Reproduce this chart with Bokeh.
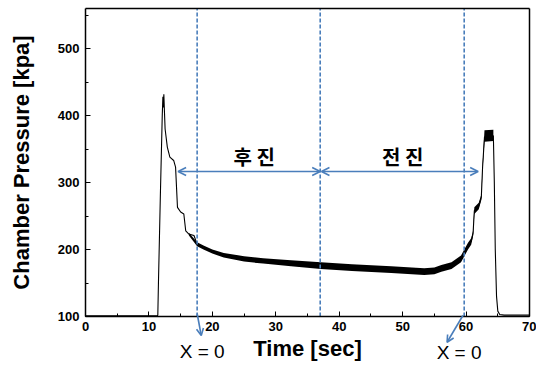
from bokeh.plotting import figure
from bokeh.models import (Arrow, OpenHead, Label, SingleIntervalTicker,
                          FixedTicker, LinearAxis, Range1d)
from bokeh.embed import file_html
from bokeh.resources import INLINE

# ---- data ----
time_s = [0, 11.3, 11.4, 11.5, 11.8, 12.1, 12.2, 12.27, 12.35, 12.45, 12.55,
          12.9, 13.3, 13.9, 14.2, 14.5, 15.0, 15.5, 15.8, 16.3, 17.1, 17.6,
          18.6, 20.0, 21.8, 25.0, 28.0, 32.4, 37.1, 42.0, 48.2, 53.4, 55.0,
          56.1, 57.7, 59.2, 60.3, 60.8, 61.1, 61.3, 62.0, 62.4, 62.6, 62.9,
          64.3, 64.45, 64.6, 64.8, 65.0, 65.3, 66.0, 70.0]
pressure = [101, 101, 102, 150, 280, 400, 428, 412, 432, 405, 380,
            353, 338, 333, 323, 263, 256, 253, 228, 223, 221, 208,
            203, 197, 191, 186, 183, 179, 176, 173, 170, 167, 168,
            172, 176, 186, 205, 212, 224, 258, 265, 278, 323, 368,
            370, 300, 200, 130, 108, 103, 102, 102]

# noisy band (upper / lower envelope) of the steady part
band_t = [16.3, 17.6, 18.6, 20.0, 21.8, 25.0, 28.0, 32.4, 37.1, 42.0, 48.2,
          53.4, 55.0, 56.1, 57.7, 59.2, 60.3, 60.8, 61.1, 61.3, 62.0, 62.4,
          62.6, 62.9, 64.3]
band_hi = [225, 211, 206, 200, 195, 190, 187, 184, 181, 178, 175,
           172, 173, 177, 181, 191, 210, 217, 228, 263, 270, 282,
           327, 378, 379]
band_lo = [221, 205, 200, 194, 188, 182, 179, 175, 171, 168, 165,
           162, 163, 167, 171, 181, 200, 207, 220, 253, 260, 274,
           319, 361, 362]

marker_t = [17.6, 37.0, 59.7]            # dashed vertical markers
phase_labels = ["후 진", "전 진"]
phase_label_t = [26.6, 50.0]
phase_label_p = 339
phase_arrow_p = 316.5
phase_arrows = [(14.6, 37.0), (37.2, 61.9)]
x0_label = "X = 0"
x0_arrows = [((17.6, 104.5), (18.25, 71.5)), ((59.5, 101.5), (57.0, 61.5))]
x0_label_pos = [(18.4, 47.6), (58.9, 46.1)]

x_axis_span = (0, 70)
y_axis_span = (100, 560)
# the view extends past the axes so that labels and arrows below/left fit
x_view = (-13.40, 71.10)
y_view = (29.8, 571.9)

BLUE = "#4a7ebb"
FONT = "Liberation Sans"
KFONT = "Noto Sans CJK KR"

p = figure(width=536, height=363, output_backend="svg", toolbar_location=None,
           x_range=Range1d(*x_view), y_range=Range1d(*y_view),
           min_border_left=0, min_border_right=0, min_border_top=0,
           min_border_bottom=0)
p.grid.visible = False
p.background_fill_color = "white"
p.border_fill_color = "white"
p.outline_line_color = None

p.xaxis.ticker = SingleIntervalTicker(interval=10, num_minor_ticks=2)
p.yaxis.ticker = SingleIntervalTicker(interval=100, num_minor_ticks=2)
p.xaxis.fixed_location = y_axis_span[0]
p.yaxis.fixed_location = x_axis_span[0]
p.xaxis.bounds = x_axis_span
p.yaxis.bounds = y_axis_span
for ax in (p.xaxis[0], p.yaxis[0]):
    ax.axis_line_color = "black"
    ax.axis_line_width = 1.5
    ax.major_tick_in = 5
    ax.major_tick_out = 0
    ax.minor_tick_in = 3
    ax.minor_tick_out = 0
    ax.major_tick_line_color = "black"
    ax.minor_tick_line_color = "black"
    ax.major_label_text_font = FONT
    ax.major_label_text_font_style = "bold"
    ax.major_label_text_font_size = "13px"
    ax.major_label_text_color = "black"
    ax.axis_label_text_font = FONT
    ax.axis_label_text_font_style = "bold"
    ax.axis_label_text_font_size = "22px"
    ax.axis_label_text_color = "black"
    ax.major_label_standoff = 6

p.xaxis.axis_label = "Time [sec]"
p.yaxis.axis_label = "Chamber Pressure [kpa]"
p.xaxis.axis_label_standoff = 1
p.yaxis.axis_label_standoff = 21

# top and right border of the box
top_ax = LinearAxis(ticker=FixedTicker(ticks=[]), axis_line_color="black",
                    axis_line_width=1.5, major_tick_line_color=None,
                    minor_tick_line_color=None, major_label_text_font_size="0px",
                    fixed_location=y_axis_span[1], bounds=x_axis_span)
right_ax = LinearAxis(ticker=FixedTicker(ticks=[]), axis_line_color="black",
                      axis_line_width=1.5, major_tick_line_color=None,
                      minor_tick_line_color=None, major_label_text_font_size="0px",
                      fixed_location=x_axis_span[1], bounds=y_axis_span)
p.add_layout(top_ax, "above")
p.add_layout(right_ax, "right")

# band + line
p.varea(x=band_t, y1=band_lo, y2=band_hi, fill_color="black")
p.line(time_s, pressure, line_color="black", line_width=1.1)

for t in marker_t:
    p.segment(x0=[t], y0=[y_axis_span[0]], x1=[t], y1=[y_axis_span[1]],
              line_color=BLUE, line_width=1.6, line_dash="4 2")

for (a, b) in phase_arrows:
    p.add_layout(Arrow(x_start=a, y_start=phase_arrow_p, x_end=b, y_end=phase_arrow_p,
                       line_color=BLUE, line_width=1.6,
                       start=OpenHead(size=8, line_color=BLUE, line_width=1.6),
                       end=OpenHead(size=8, line_color=BLUE, line_width=1.6)))

for txt, t in zip(phase_labels, phase_label_t):
    p.add_layout(Label(x=t, y=phase_label_p, text=txt, text_font=KFONT,
                       text_font_style="bold", text_font_size="20px",
                       text_align="center", text_baseline="middle",
                       text_color="black"))

for (s, e) in x0_arrows:
    p.add_layout(Arrow(x_start=s[0], y_start=s[1], x_end=e[0], y_end=e[1],
                       line_color=BLUE, line_width=1.6,
                       end=OpenHead(size=7, line_color=BLUE, line_width=1.6)))

for (t, pr) in x0_label_pos:
    p.add_layout(Label(x=t, y=pr, text=x0_label, text_font=FONT,
                       text_font_size="19px", text_align="center",
                       text_baseline="middle", text_color="black"))

open("out.html", "w").write(file_html(p, INLINE))
